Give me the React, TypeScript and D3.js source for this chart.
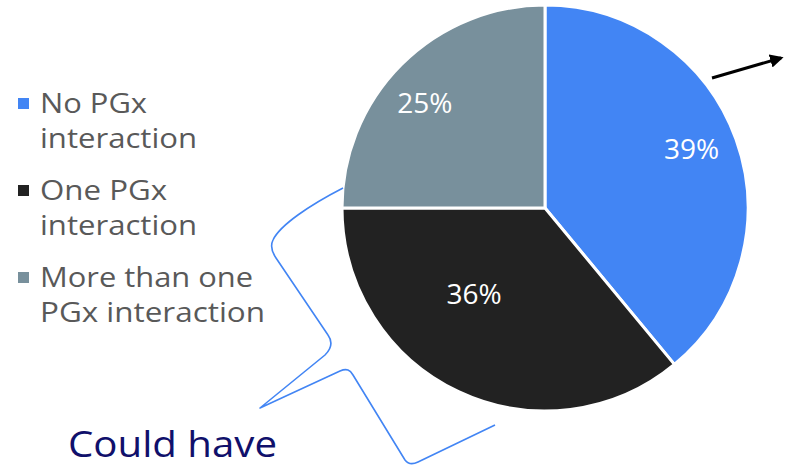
import React from "react";
import * as d3 from "d3";

const categories = ["No PGx interaction", "One PGx interaction", "More than one PGx interaction"];
const values = [39, 36, 25];
const colors = ["#4285F4", "#222222", "#78909C"];
const legendLines = [["No PGx", "interaction"], ["One PGx", "interaction"], ["More than one", "PGx interaction"]];
const annotationText = "Could have";

export default function App() {
  const W = 785, H = 465;
  const cx = 545, cy = 208, r = 203;
  const pie = d3.pie<number>().sort(null).value((d) => d)(values);
  const arc = d3.arc<d3.PieArcDatum<number>>().innerRadius(0).outerRadius(r);
  const labelArc = d3.arc<d3.PieArcDatum<number>>().innerRadius(r * 0.6).outerRadius(r * 0.6);
  const font = "'Open Sans', 'DejaVu Sans', sans-serif";
  const labelOffsets = [[32, -19], [-19, -25], [-34, -20]];
  const legendWidths = [[107, 157], [127, 157], [213, 225]];
  return (
    <div style={{ position: "absolute", left: 0, top: 0 }}>
      <svg width={W} height={H} style={{ display: "block" }}>
        <defs>
          <marker id="ah" viewBox="0 0 10 10" refX="8" refY="5" markerWidth="4.5" markerHeight="4.5" orient="auto">
            <path d="M0,0 L10,5 L0,10 z" fill="#000" />
          </marker>
        </defs>
        <rect width={W} height={H} fill="#fff" />
        <g transform={`translate(${cx},${cy})`}>
          {pie.map((p, i) => (
            <path key={i} d={arc(p) || ""} fill={colors[i]} stroke="#fff" strokeWidth={3} strokeLinejoin="round" />
          ))}
          {pie.map((p, i) => {
            const [x, y] = labelArc.centroid(p);
            return (
              <text key={i} x={x + labelOffsets[i][0]} y={y + labelOffsets[i][1]} fill="#fff" fontFamily={font} fontSize={28} textAnchor="middle" dominantBaseline="central">
                {`${values[i]}%`}
              </text>
            );
          })}
        </g>
        {legendLines.map((lines, i) => {
          const base = [113, 200, 287][i];
          return (
            <g key={i}>
              <rect x={18} y={base - 15} width={11} height={11} fill={colors[i]} />
              {lines.map((t, j) => (
                <text key={j} x={40} y={base + j * 35} fill="#595959" fontFamily={font} fontSize={28}
                  textLength={legendWidths[i][j]} lengthAdjust="spacingAndGlyphs">
                  {t}
                </text>
              ))}
            </g>
          );
        })}
        <line x1={712} y1={78} x2={781} y2={58} stroke="#000" strokeWidth={3} markerEnd="url(#ah)" />
        <path d="M343,188 C310,205 280,225 273,240 C270,246 272,252 276,258 L328,335 C333,342 332,348 325,355 L260,408 L340,371 C347,368 350,370 353,375 L405,460 C408,464 412,465 418,462 L495,425"
          fill="none" stroke="#4285F4" strokeWidth={1.6} strokeLinejoin="round" />
        <text x={68} y={457} fill="#10106b" fontFamily={font} fontSize={37} textLength={209} lengthAdjust="spacingAndGlyphs">{annotationText}</text>
      </svg>
    </div>
  );
}
